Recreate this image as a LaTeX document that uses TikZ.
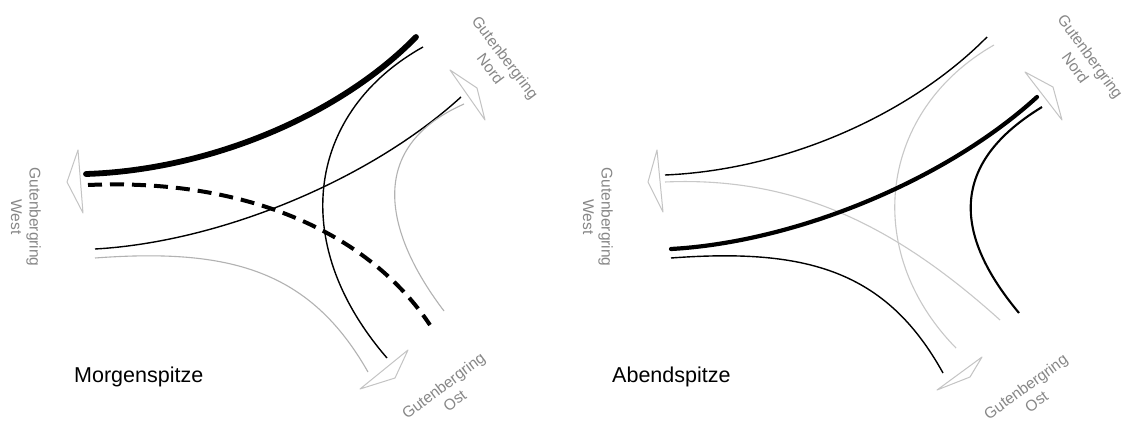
\documentclass[tikz,border=0pt]{standalone}
\usepackage{fontspec}
\setmainfont{Liberation Sans}
\definecolor{lightroad}{RGB}{178,178,178}
\definecolor{paleroad}{RGB}{200,200,200}
\definecolor{arrowgray}{RGB}{196,196,196}
\definecolor{labelgray}{RGB}{135,135,135}
\tikzset{
  heavy/.style={line width=5.8pt, line cap=round},
  medium/.style={line width=4.2pt, line cap=round},
  dashroute/.style={line width=4pt, dash pattern=on 14pt off 8pt},
  thinroute/.style={line width=1.4pt},
  midroute/.style={line width=2.1pt},
  grayroute/.style={line width=1.1pt, draw=lightroad},
  paleroute/.style={line width=1.1pt, draw=paleroad},
  dirarrow/.style={line width=1pt, draw=arrowgray, line join=round},
  streetlabel/.style={text=labelgray, align=center, inner sep=0pt,
    font=\fontsize{15.5}{18.5}\selectfont},
  peaklabel/.style={text=black, inner sep=0pt, anchor=base west,
    font=\fontsize{21.5}{24}\selectfont}
}
\begin{document}
\begin{tikzpicture}[x=1pt,y=-1pt]
\useasboundingbox (0,0) rectangle (1126,422);
\fill[white] (0,0) rectangle (1126,422);

% ===== Morgenspitze (left) =====
\coordinate (LthickA) at (86,174);   \coordinate (LthickB) at (416,37);
\coordinate (LdashA) at (88,185);    \coordinate (LdashB) at (430,325);
\coordinate (LvertA) at (423,47);    \coordinate (LvertB) at (387,358);
\coordinate (LwnA) at (95,249);      \coordinate (LwnB) at (461,97);
\coordinate (LwoA) at (95,258);      \coordinate (LwoB) at (368,372);
\coordinate (LnoA) at (464,104);     \coordinate (LnoB) at (444,311);

\draw[heavy] (LthickA) .. controls (210,170) and (340,115) .. (LthickB);
\draw[dashroute] (LdashA) .. controls (250,178) and (370,235) .. (LdashB);
\draw[thinroute] (LvertA) .. controls (310,110) and (285,240) .. (LvertB);
\draw[thinroute] (LwnA) .. controls (220,242) and (370,180) .. (LwnB);
\draw[grayroute] (LwoA) .. controls (230,248) and (310,270) .. (LwoB);
\draw[grayroute] (LnoA) .. controls (360,150) and (390,240) .. (LnoB);

\draw[dirarrow] (78,150) -- (67,182) -- (83,213) -- cycle;
\draw[dirarrow] (450,70) -- (477,88) -- (485,120) -- cycle;
\draw[dirarrow] (408,350) -- (395,378) -- (360,389) -- cycle;

\node[streetlabel, rotate=-90] (LwestL) at (26,217) {Gutenbergring\\West};
\node[streetlabel, rotate=-53] (LnordL) at (498,63) {Gutenbergring\\Nord};
\node[streetlabel, rotate=37] (LostL) at (449,393) {Gutenbergring\\Ost};
\node[peaklabel] (morgen) at (74,382) {Morgenspitze};

% ===== Abendspitze (right) =====
\coordinate (RtopA) at (665,175);    \coordinate (RtopB) at (987,37);
\coordinate (RarcA) at (994,45);     \coordinate (RarcB) at (956,348);
\coordinate (RgwA) at (665,182);     \coordinate (RgwB) at (1000,320);
\coordinate (RthickA) at (671,249);  \coordinate (RthickB) at (1037,97);
\coordinate (RlowA) at (671,258);    \coordinate (RlowB) at (943,373);
\coordinate (RrightA) at (1042,107); \coordinate (RrightB) at (1019,313);

\draw[thinroute] (RtopA) .. controls (785,170) and (910,115) .. (RtopB);
\draw[paleroute] (RarcA) .. controls (880,110) and (860,250) .. (RarcB);
\draw[paleroute] (RgwA) .. controls (800,176) and (900,230) .. (RgwB);
\draw[medium] (RthickA) .. controls (796,242) and (946,180) .. (RthickB);
\draw[thinroute] (RlowA) .. controls (806,248) and (886,270) .. (RlowB);
\draw[midroute] (RrightA) .. controls (955,160) and (948,228) .. (RrightB);

\draw[dirarrow] (657,150) -- (648,182) -- (663,212) -- cycle;
\draw[dirarrow] (1025,72) -- (1053,87) -- (1062,120) -- cycle;
\draw[dirarrow] (982,357) -- (970,377) -- (937,390) -- cycle;

\node[streetlabel, rotate=-90] (RwestL) at (598,217) {Gutenbergring\\West};
\node[streetlabel, rotate=-54] (RnordL) at (1083,62) {Gutenbergring\\Nord};
\node[streetlabel, rotate=36] (RostL) at (1031,394) {Gutenbergring\\Ost};
\node[peaklabel] (abend) at (612,382) {Abendspitze};
\end{tikzpicture}
\end{document}
